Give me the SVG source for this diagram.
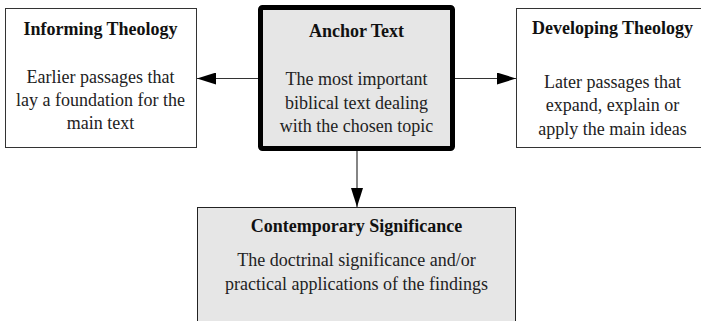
<svg xmlns="http://www.w3.org/2000/svg" width="701" height="321" viewBox="0 0 701 321">
  <defs>
    <style>
      .box { fill: #ffffff; stroke: #333333; stroke-width: 1; }
      .shaded { fill: #e6e6e6; stroke: #222222; stroke-width: 1; }
      .anchor { fill: #e6e6e6; stroke: #000000; stroke-width: 5; }
      .title { font-family: "Liberation Serif", "Times New Roman", serif; font-size: 18px; font-weight: bold; fill: #111111; text-anchor: middle; }
      .body { font-family: "Liberation Serif", "Times New Roman", serif; font-size: 18px; fill: #222222; text-anchor: middle; }
      .link { stroke: #333333; stroke-width: 1.2; fill: none; marker-end: url(#head); }
    </style>
    <marker id="head" markerUnits="userSpaceOnUse" markerWidth="19" markerHeight="12" refX="19" refY="6" orient="auto">
      <path d="M0,0 L19,6 L0,12 z" fill="#000000"/>
    </marker>
  </defs>

  <!-- connectors -->
  <g id="connectors">
    <line class="link" x1="258" y1="78.5" x2="197" y2="78.5"/>
    <line class="link" x1="455" y1="78.5" x2="516" y2="78.5"/>
    <line class="link" x1="357" y1="151" x2="357" y2="207"/>
  </g>

  <g id="informing-theology">
    <rect class="box" x="5.5" y="8.5" width="191" height="139"/>
    <text class="title" x="100.5" y="35">Informing Theology</text>
    <text class="body" x="100.5" y="83">Earlier passages that</text>
    <text class="body" x="100.5" y="106">lay a foundation for the</text>
    <text class="body" x="100.5" y="129">main text</text>
  </g>

  <g id="anchor-text">
    <rect class="anchor" x="260.5" y="7.5" width="192" height="141" rx="2"/>
    <text class="title" x="356.5" y="37">Anchor Text</text>
    <text class="body" x="356.5" y="85">The most important</text>
    <text class="body" x="356.5" y="109">biblical text dealing</text>
    <text class="body" x="356.5" y="132">with the chosen topic</text>
  </g>

  <g id="developing-theology">
    <rect class="box" x="516.5" y="8.5" width="192" height="139"/>
    <text class="title" x="612.5" y="34">Developing Theology</text>
    <text class="body" x="612.5" y="88">Later passages that</text>
    <text class="body" x="612.5" y="111">expand, explain or</text>
    <text class="body" x="612.5" y="135">apply the main ideas</text>
  </g>

  <g id="contemporary-significance">
    <rect class="shaded" x="197.5" y="207.5" width="318" height="130"/>
    <text class="title" x="356.5" y="232">Contemporary Significance</text>
    <text class="body" x="356.5" y="266">The doctrinal significance and/or</text>
    <text class="body" x="356.5" y="290">practical applications of the findings</text>
  </g>
</svg>
